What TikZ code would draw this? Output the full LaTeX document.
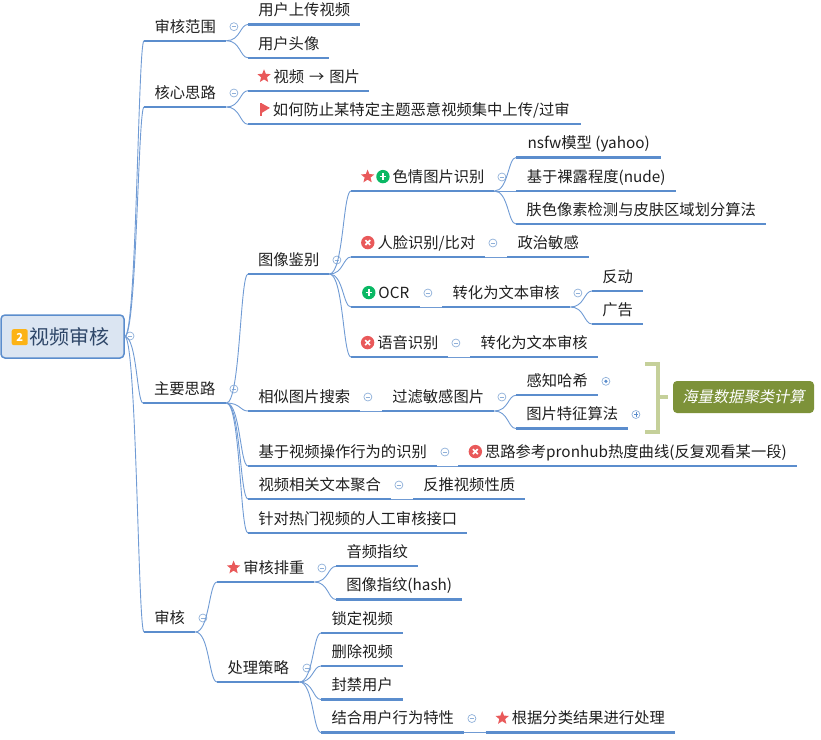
\documentclass[tikz,border=0pt]{standalone}
\usepackage{fontspec}
\setmainfont{Noto Sans CJK SC}
\newfontfamily\cjkslant[FakeSlant=0.2]{Noto Sans CJK SC}
\usepackage{xcolor}
\usetikzlibrary{calc}
\definecolor{mapblue}{RGB}{91, 141, 205}
\definecolor{linkblue}{RGB}{112, 155, 212}
\definecolor{foldblue}{RGB}{143, 176, 217}
\definecolor{rootfill}{RGB}{219, 229, 242}
\definecolor{roottext}{RGB}{47, 71, 105}
\definecolor{iconred}{RGB}{233, 89, 90}
\definecolor{icongreen}{RGB}{10, 184, 100}
\definecolor{iconorange}{RGB}{252, 179, 22}
\definecolor{tagolive}{RGB}{125, 146, 57}
\definecolor{bracketolive}{RGB}{197, 208, 154}
\newcommand{\iconstar}{\tikz[baseline=-5.7pt,x=1pt,y=1pt]{\fill[iconred] (90:7pt) \foreach \a/\r in {126/3.1,162/7,198/3.1,234/7,270/3.1,306/7,342/3.1,18/7,54/3.1} {-- (\a:\r pt)} -- cycle;}}
\newcommand{\iconflag}{\tikz[baseline=-5.7pt,x=1pt,y=1pt]{\fill[iconred] (-5,-6.5) rectangle (-3,6.5); \fill[iconred] (-3,6.5) -- (5.2,2) -- (-3,-3) -- cycle;}}
\newcommand{\iconadd}{\tikz[baseline=-5.7pt,x=1pt,y=1pt]{\fill[icongreen] (0,0) circle (6.7); \draw[white,line width=1.7pt] (-3.2,0) -- (3.2,0) (0,-3.2) -- (0,3.2);}}
\newcommand{\iconcross}{\tikz[baseline=-5.7pt,x=1pt,y=1pt]{\fill[iconred] (0,0) circle (6.7); \draw[white,line width=1.7pt] (-2.4,-2.4) -- (2.4,2.4) (-2.4,2.4) -- (2.4,-2.4);}}
\newcommand{\iconnum}{\tikz[baseline=-7pt,x=1pt,y=1pt]{\fill[iconorange,rounded corners=2pt] (-8,-8) rectangle (8,8); \path (0,0) node[white,font=\fontsize{11}{11}\selectfont\bfseries,inner sep=0pt,minimum width=0pt,minimum height=0pt] (numlabel) {2};}}
\newcommand{\fold}[2][folded]{\node[#1] (#2fold) at ([shift={(7.5,-14)}]#2.south east) {};}
\begin{document}
\begin{tikzpicture}[
                x=1pt,y=-1pt,
                font=\fontsize{15.3}{15.3}\selectfont,text=black!88,
                topicline/.style={draw=mapblue,line width=2.2pt},
                topic/.style={anchor=south west,inner sep=0pt,text height=13pt,text depth=8.5pt,minimum width=#1,
                    append after command={(\tikzlastnode.south west) edge[topicline] (\tikzlastnode.south east)}},
                link/.style={draw=linkblue,line width=0.9pt},
                foldbase/.style={circle,draw=foldblue,line width=0.7pt,inner sep=0pt,minimum size=8pt},
                folded/.style={foldbase,path picture={\draw[foldblue,line width=0.7pt] ([xshift=-2.2pt]path picture bounding box.center) -- ([xshift=2.2pt]path picture bounding box.center);}},
                foldplus/.style={foldbase,path picture={\draw[mapblue,line width=0.7pt] ([xshift=-2.2pt]path picture bounding box.center) -- ([xshift=2.2pt]path picture bounding box.center) ([yshift=-2.2pt]path picture bounding box.center) -- ([yshift=2.2pt]path picture bounding box.center);}},
                folddot/.style={foldbase,path picture={\fill[mapblue] (path picture bounding box.center) circle (1.8pt);}},
                rootbox/.style={draw=mapblue,line width=1.5pt,fill=rootfill,rounded corners=4pt,minimum width=123pt,minimum height=43pt,inner sep=0pt,text=roottext,font=\fontsize{20}{20}\selectfont},
                tagbox/.style={fill=tagolive,rounded corners=4pt,minimum width=141pt,minimum height=32pt,inner sep=0pt,text=white,font=\fontsize{15.3}{15.3}\selectfont\cjkslant},
                bracketline/.style={draw=bracketolive,line width=3.2pt}
            ]
                \useasboundingbox (0,0) rectangle (821,739);
                \node[rootbox] (root) at (62.5,336.5) {\iconnum\hspace{2pt}视频审核\hspace{3.5pt}\null};
                \node[folded] (rootfold) at (130,336) {};

                \node[topic=82] (scope) at (144,40.7) {审核范围};
                \node[topic=82] (idea) at (144,107) {核心思路};
                \node[topic=83] (mainidea) at (143,403) {主要思路};
                \node[topic=51] (audit) at (144,632) {审核};
                \fold{scope}
                \fold{idea}
                \fold{mainidea}
                \fold{audit}

                \node[topic=112] (upload) at (248,24.5) {用户上传视频};
                \node[topic=81] (avatar) at (248,57.7) {用户头像};
                \node[topic=121] (keyframe) at (248,90.7) {\iconstar\hspace{3pt}视频\hspace{1.5pt} → \hspace{1.5pt}图片};
                \node[topic=333] (flood) at (248,124.3) {\iconflag\hspace{3pt}如何防止某特定主题恶意视频集中上传/过审};

                \node[topic=81] (image) at (248,274) {图像鉴别};
                \fold{image}
                \node[topic=143] (porn) at (351,191) {\iconstar\hspace{2pt}\iconadd\hspace{3pt}色情图片识别};
                \fold{porn}
                \node[topic=145] (nsfw) at (516,157.5) {nsfw模型 (yahoo)};
                \node[topic=160] (nude) at (516,191) {基于裸露程度(nude)};
                \node[topic=250] (skin) at (516,224) {肤色像素检测与皮肤区域划分算法};
                \node[topic=134] (face) at (351,257) {\iconcross\hspace{3pt}人脸识别/比对};
                \fold{face}
                \node[topic=82] (politics) at (507,257) {政治敏感};
                \node[topic=69] (ocr) at (351,307) {\iconadd\hspace{3pt}OCR};
                \fold{ocr}
                \node[topic=128] (ocrtext) at (442,307) {转化为文本审核};
                \fold{ocrtext}
                \node[topic=51] (reaction) at (592,291) {反动};
                \node[topic=51] (ads) at (592,324) {广告};
                \node[topic=97] (voice) at (351,357) {\iconcross\hspace{3pt}语音识别};
                \fold{voice}
                \node[topic=128] (voicetext) at (470,357) {转化为文本审核};

                \node[topic=112] (similar) at (248,411) {相似图片搜索};
                \fold{similar}
                \node[topic=112] (filter) at (382,411) {过滤敏感图片};
                \fold{filter}
                \node[topic=82] (phash) at (516,395.3) {感知哈希};
                \fold[folddot]{phash}
                \node[topic=112] (feature) at (516,428.5) {图片特征算法};
                \fold[foldplus]{feature}
                \node[tagbox] (tag) at (743.5,397) {海量数据聚类计算};

                \node[topic=189] (behavior) at (248,466) {基于视频操作行为的识别};
                \fold{behavior}
                \node[topic=339] (pronhub) at (458,466) {\iconcross\hspace{3pt}思路参考pronhub热度曲线(反复观看某一段)};
                \node[topic=143] (related) at (248,499) {视频相关文本聚合};
                \fold{related}
                \node[topic=112] (infer) at (413,499) {反推视频性质};
                \node[topic=219] (manual) at (248,533) {针对热门视频的人工审核接口};

                \node[topic=97] (dedup) at (217,582) {\iconstar\hspace{3pt}审核排重};
                \fold{dedup}
                \node[topic=82] (audiofp) at (336,566.3) {音频指纹};
                \node[topic=126] (imagefp) at (336,599.5) {图像指纹(hash)};
                \node[topic=82] (strategy) at (217,682) {处理策略};
                \fold{strategy}
                \node[topic=82] (lock) at (321,633) {锁定视频};
                \node[topic=82] (delete) at (321,666) {删除视频};
                \node[topic=82] (ban) at (321,699.5) {封禁用户};
                \node[topic=143] (combine) at (321,732.5) {结合用户行为特性};
                \fold{combine}
                \node[topic=189] (classify) at (485.5,732.5) {\iconstar\hspace{3pt}根据分类结果进行处理};

                \draw[link] (root.east) .. controls +(12,0) and +(-6,0) .. (scope.south west);
                \draw[link] (root.east) .. controls +(12,0) and +(-6,0) .. (idea.south west);
                \draw[link] (root.east) .. controls +(12,0) and +(-6,0) .. (mainidea.south west);
                \draw[link] (root.east) .. controls +(12,0) and +(-6,0) .. (audit.south west);
                \draw[link] (scope.south east) .. controls +(14,0) and +(-8,0) .. (upload.south west);
                \draw[link] (scope.south east) .. controls +(14,0) and +(-8,0) .. (avatar.south west);
                \draw[link] (idea.south east) .. controls +(14,0) and +(-8,0) .. (keyframe.south west);
                \draw[link] (idea.south east) .. controls +(14,0) and +(-8,0) .. (flood.south west);
                \draw[link] (mainidea.south east) .. controls +(14,0) and +(-8,0) .. (image.south west);
                \draw[link] (mainidea.south east) .. controls +(14,0) and +(-8,0) .. (similar.south west);
                \draw[link] (mainidea.south east) .. controls +(14,0) and +(-8,0) .. (behavior.south west);
                \draw[link] (mainidea.south east) .. controls +(14,0) and +(-8,0) .. (related.south west);
                \draw[link] (mainidea.south east) .. controls +(14,0) and +(-8,0) .. (manual.south west);
                \draw[link] (image.south east) .. controls +(14,0) and +(-8,0) .. (porn.south west);
                \draw[link] (image.south east) .. controls +(14,0) and +(-8,0) .. (face.south west);
                \draw[link] (image.south east) .. controls +(14,0) and +(-8,0) .. (ocr.south west);
                \draw[link] (image.south east) .. controls +(14,0) and +(-8,0) .. (voice.south west);
                \draw[link] (porn.south east) .. controls +(14,0) and +(-8,0) .. (nsfw.south west);
                \draw[link] (porn.south east) -- (nude.south west);
                \draw[link] (porn.south east) .. controls +(14,0) and +(-8,0) .. (skin.south west);
                \draw[link] (face.south east) -- (politics.south west);
                \draw[link] (ocr.south east) -- (ocrtext.south west);
                \draw[link] (ocrtext.south east) .. controls +(14,0) and +(-8,0) .. (reaction.south west);
                \draw[link] (ocrtext.south east) .. controls +(14,0) and +(-8,0) .. (ads.south west);
                \draw[link] (voice.south east) -- (voicetext.south west);
                \draw[link] (similar.south east) -- (filter.south west);
                \draw[link] (filter.south east) .. controls +(14,0) and +(-8,0) .. (phash.south west);
                \draw[link] (filter.south east) .. controls +(14,0) and +(-8,0) .. (feature.south west);
                \draw[link] (behavior.south east) -- (pronhub.south west);
                \draw[link] (related.south east) -- (infer.south west);
                \draw[link] (audit.south east) .. controls +(14,0) and +(-8,0) .. (dedup.south west);
                \draw[link] (audit.south east) .. controls +(14,0) and +(-8,0) .. (strategy.south west);
                \draw[link] (dedup.south east) .. controls +(14,0) and +(-8,0) .. (audiofp.south west);
                \draw[link] (dedup.south east) .. controls +(14,0) and +(-8,0) .. (imagefp.south west);
                \draw[link] (strategy.south east) .. controls +(14,0) and +(-8,0) .. (lock.south west);
                \draw[link] (strategy.south east) .. controls +(14,0) and +(-8,0) .. (delete.south west);
                \draw[link] (strategy.south east) .. controls +(14,0) and +(-8,0) .. (ban.south west);
                \draw[link] (strategy.south east) .. controls +(14,0) and +(-8,0) .. (combine.south west);
                \draw[link] (combine.south east) -- (classify.south west);

                \coordinate (brackettop) at (645,364);
                \coordinate (bracketbot) at (645,432);
                \coordinate (bracketmid) at (658,397);
                \draw[bracketline] (brackettop) -| (bracketmid) |- (bracketbot);
                \draw[bracketline,shorten >=5pt] (bracketmid) -- (tag.west);
            \end{tikzpicture}
\end{document}
